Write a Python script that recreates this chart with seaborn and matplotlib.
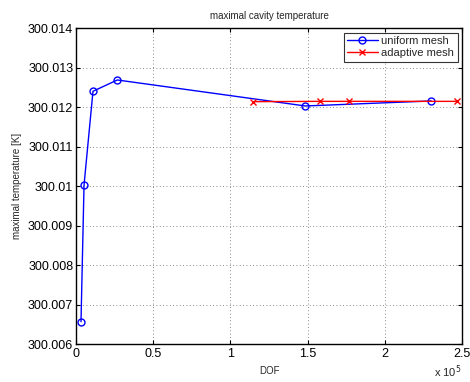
import numpy as np
import pandas as pd
import matplotlib
matplotlib.use("Agg")
import matplotlib.pyplot as plt
import seaborn as sns
from matplotlib.ticker import FuncFormatter, FixedLocator

# Data
uniform_dof = [3240, 5200, 11000, 26750, 148500, 230100]
uniform_temp = [300.006572, 300.01003, 300.012405, 300.012691, 300.012033, 300.01216]
adaptive_dof = [114800, 158000, 176800, 246800]
adaptive_temp = [300.012142, 300.01215, 300.01215, 300.01215]

x_ticks = [0, 50000, 100000, 150000, 200000, 250000]
y_ticks = [300.006, 300.007, 300.008, 300.009, 300.010, 300.011, 300.012, 300.013, 300.014]

sns.set_style("white")
plt.rcParams['font.family'] = ['Liberation Sans', 'DejaVu Sans']

fig = plt.figure(figsize=(4.7, 3.82), dpi=100)
ax = fig.add_axes([0.1617, 0.0987, 0.8213, 0.8273])

df_u = pd.DataFrame({"DOF": uniform_dof, "T": uniform_temp})
df_a = pd.DataFrame({"DOF": adaptive_dof, "T": adaptive_temp})

sns.lineplot(data=df_u, x="DOF", y="T", ax=ax, color="#0000ff", marker="o",
             markerfacecolor="none", markeredgecolor="#0000ff", markersize=5,
             markeredgewidth=1.0, linewidth=1.0, sort=False, label="uniform mesh")
sns.lineplot(data=df_a, x="DOF", y="T", ax=ax, color="#ff0000", marker="x",
             markeredgecolor="#ff0000", markerfacecolor="#ff0000",
             markersize=4, markeredgewidth=1.0, linewidth=1.0, sort=False,
             label="adaptive mesh")

ax.set_xlim(0, 250000)
ax.set_ylim(300.006, 300.014)
ax.xaxis.set_major_locator(FixedLocator(x_ticks))
ax.yaxis.set_major_locator(FixedLocator(y_ticks))
ax.xaxis.set_major_formatter(FuncFormatter(lambda v, p: "%g" % (v / 1e5)))
ax.yaxis.set_major_formatter(FuncFormatter(lambda v, p: "%g" % round(v, 6)))

ax.grid(True, linestyle=(0, (1, 3)), color="#666666", linewidth=0.6)
ax.tick_params(direction="in", length=3, width=0.8, labelsize=9, colors="black",
               top=True, right=True, bottom=True, left=True, pad=2)
ax.tick_params(axis='x', pad=3)
for s in ax.spines.values():
    s.set_color("black")
    s.set_linewidth(1.0)
    s.set_visible(True)

ax.set_title("maximal cavity temperature", fontsize=7, pad=7)
ax.set_xlabel("DOF", fontsize=7, labelpad=4)
ax.set_ylabel("maximal temperature [K]", fontsize=7, labelpad=4)

fig.text(0.982, 0.004, r"x 10$^5$", ha="right", va="bottom", fontsize=8)

leg = ax.legend(loc="upper right", fontsize=8, frameon=True, fancybox=False,
                borderpad=0.3, labelspacing=0.2, handlelength=2.8,
                handletextpad=0.3, borderaxespad=0.4)
leg.get_frame().set_edgecolor("black")
leg.get_frame().set_linewidth(0.8)

fig.savefig("out.png", dpi=100)
